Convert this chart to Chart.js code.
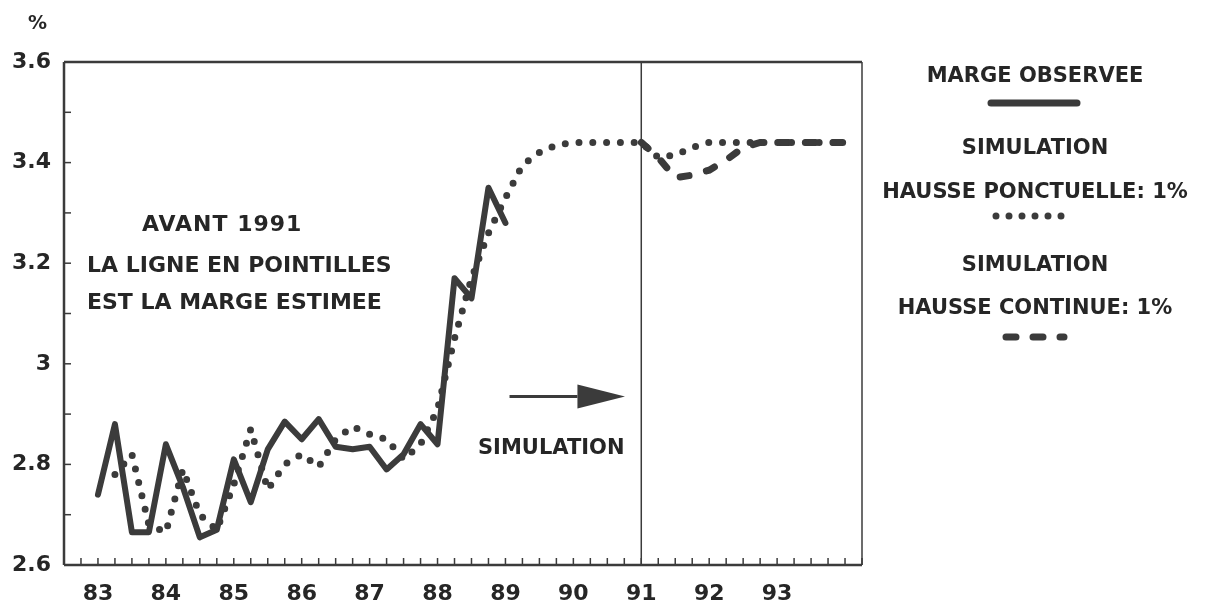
<!DOCTYPE html>
<html>
<head>
<meta charset="utf-8">
<script src="https://cdn.jsdelivr.net/npm/chart.js@4.4.1/dist/chart.umd.min.js"></script>
<style>
  body { margin: 0; background: #fff; }
  #wrap { position: relative; width: 1211px; height: 602px; font-family: 'DejaVu Sans', sans-serif; font-weight: bold; color: #262626; }
  #wrap canvas { position: absolute; left: 0; top: 0; }
  .txt { position: absolute; white-space: nowrap; font-size: 22px; line-height: 1; }
  .leg { position: absolute; left: 870px; width: 330px; text-align: center; font-size: 21px; line-height: 1; white-space: nowrap; }
  .leg svg { display: block; margin: 0 auto; }
</style>
</head>
<body>
<div id="wrap">
  <canvas id="c" width="1211" height="602"></canvas>
  <div class="txt" style="left:28px;top:13px;font-size:19px;">%</div>
  <div class="txt" style="left:142px;top:213px;letter-spacing:1px;">AVANT 1991</div>
  <div class="txt" style="left:87px;top:254px;">LA LIGNE EN POINTILLES</div>
  <div class="txt" style="left:87px;top:291px;">EST LA MARGE ESTIMEE</div>
  <div class="txt" style="left:478px;top:437px;font-size:21px;">SIMULATION</div>

  <div class="leg" style="top:65px;">MARGE OBSERVEE</div>
  <div class="leg" style="top:97px;"><svg width="100" height="12"><line x1="6" y1="6" x2="92" y2="6" stroke="#3b3b3b" stroke-width="7" stroke-linecap="round"/></svg></div>
  <div class="leg" style="top:137px;">SIMULATION</div>
  <div class="leg" style="top:181px;">HAUSSE PONCTUELLE: 1%</div>
  <div class="leg" style="top:210px;"><svg width="90" height="12"><line x1="6" y1="6" x2="84" y2="6" stroke="#3b3b3b" stroke-width="7" stroke-linecap="round" stroke-dasharray="0 13"/></svg></div>
  <div class="leg" style="top:254px;">SIMULATION</div>
  <div class="leg" style="top:297px;">HAUSSE CONTINUE: 1%</div>
  <div class="leg" style="top:331px;"><svg width="70" height="12"><line x1="6" y1="6" x2="64" y2="6" stroke="#3b3b3b" stroke-width="7" stroke-linecap="round" stroke-dasharray="10 17"/></svg></div>
</div>
<script>
// Marge observee, trimestrielle, a partir de 1983 T1
const observed = [2.74, 2.88, 2.665, 2.665, 2.84, 2.755, 2.655, 2.67, 2.81, 2.725,
  2.83, 2.885, 2.85, 2.89, 2.835, 2.83, 2.835, 2.79, 2.82, 2.88,
  2.84, 3.17, 3.13, 3.35, 3.28];
const observedStart = 83;

// Simulation hausse ponctuelle (pointilles), a partir de 1983 T2
const ponctuelle = [2.78, 2.82, 2.68, 2.665, 2.79, 2.70, 2.67, 2.76, 2.87, 2.75,
  2.80, 2.82, 2.795, 2.85, 2.875, 2.86, 2.85, 2.81, 2.84, 2.91,
  3.05, 3.17, 3.26, 3.33, 3.395, 3.42, 3.435, 3.44, 3.44, 3.44,
  3.44, 3.44, 3.41, 3.415, 3.43, 3.44, 3.44, 3.44, 3.44, 3.44,
  3.44, 3.44, 3.44, 3.44];
const ponctuelleStart = 83.25;

// Simulation hausse continue (tirets), a partir de 1991 T1
const continue1 = [3.44, 3.41, 3.37, 3.375, 3.385, 3.405, 3.43, 3.44, 3.44, 3.44,
  3.44, 3.44, 3.44];
const continueStart = 91;

const yearLabels = ['83', '84', '85', '86', '87', '88', '89', '90', '91', '92', '93'];
const simStart = 91;

const INK = '#3b3b3b';
const TXT = '#262626';

function toPoints(vals, start) {
  return vals.map((v, i) => ({ x: start + i / 4, y: v }));
}

const framePlugin = {
  id: 'frame',
  afterDatasetsDraw(chart) {
    const { ctx, chartArea: a, scales: { x, y } } = chart;
    ctx.save();
    ctx.strokeStyle = INK;
    ctx.lineCap = 'butt';
    // inward ticks
    ctx.lineWidth = 1.5;
    x.ticks.forEach(t => {
      const px = x.getPixelForValue(t.value);
      ctx.beginPath(); ctx.moveTo(px, a.bottom); ctx.lineTo(px, a.bottom - 7); ctx.stroke();
    });
    y.ticks.forEach(t => {
      const py = y.getPixelForValue(t.value);
      ctx.beginPath(); ctx.moveTo(a.left, py); ctx.lineTo(a.left + 7, py); ctx.stroke();
    });
    // vertical line: debut de la simulation
    const sx = x.getPixelForValue(simStart);
    ctx.lineWidth = 1.5;
    ctx.beginPath(); ctx.moveTo(sx, a.top); ctx.lineTo(sx, a.bottom); ctx.stroke();
    // frame
    ctx.lineWidth = 2.5;
    ctx.beginPath(); ctx.moveTo(a.left, a.top); ctx.lineTo(a.right, a.top); ctx.stroke();
    ctx.beginPath(); ctx.moveTo(a.left, a.bottom); ctx.lineTo(a.right, a.bottom); ctx.stroke();
    ctx.beginPath(); ctx.moveTo(a.left, a.top); ctx.lineTo(a.left, a.bottom); ctx.stroke();
    ctx.lineWidth = 1.5;
    ctx.beginPath(); ctx.moveTo(a.right, a.top); ctx.lineTo(a.right, a.bottom); ctx.stroke();
    // arrow
    const ay = y.getPixelForValue(2.935);
    const x0 = x.getPixelForValue(89.06), xb = x.getPixelForValue(90.06), xt = x.getPixelForValue(90.76);
    ctx.lineWidth = 3;
    ctx.beginPath(); ctx.moveTo(x0, ay); ctx.lineTo(xb, ay); ctx.stroke();
    ctx.fillStyle = INK;
    ctx.beginPath(); ctx.moveTo(xb, ay - 12); ctx.lineTo(xt, ay); ctx.lineTo(xb, ay + 12); ctx.closePath(); ctx.fill();
    ctx.restore();
  }
};

const tickFont = { family: 'DejaVu Sans', weight: 'bold', size: 22 };

new Chart(document.getElementById('c'), {
  type: 'line',
  data: {
    datasets: [
      { label: 'MARGE OBSERVEE', data: toPoints(observed, observedStart),
        borderColor: INK, borderWidth: 6, pointRadius: 0, borderJoinStyle: 'round', borderCapStyle: 'round', tension: 0 },
      { label: 'HAUSSE PONCTUELLE', data: toPoints(ponctuelle, ponctuelleStart),
        borderColor: INK, borderWidth: 7, pointRadius: 0, borderCapStyle: 'round', borderDash: [0, 13.8], tension: 0 },
      { label: 'HAUSSE CONTINUE', data: toPoints(continue1, continueStart),
        borderColor: INK, borderWidth: 7, pointRadius: 0, borderCapStyle: 'round', borderDash: [9, 18], tension: 0 }
    ]
  },
  options: {
    responsive: false, animation: false,
    layout: { padding: { top: 62, right: 349, left: 0, bottom: 0 } },
    plugins: { legend: { display: false }, tooltip: { enabled: false } },
    scales: {
      x: {
        type: 'linear', min: 82.5, max: 94.25,
        afterFit: s => { s.height = 37; },
        grid: { display: false }, border: { display: false },
        ticks: {
          stepSize: 0.25, autoSkip: false, maxRotation: 0, padding: 8,
          font: tickFont, color: TXT,
          callback: v => {
            const r = Math.round(v);
            return Math.abs(v - r) < 1e-6 ? (yearLabels[r - 83] || '') : '';
          }
        }
      },
      y: {
        min: 2.6, max: 3.6,
        afterFit: s => { s.width = 64; },
        grid: { display: false }, border: { display: false },
        ticks: {
          stepSize: 0.1, padding: 5, font: tickFont, color: TXT,
          callback: v => Math.round(v * 10) % 2 === 0 ? String(Number(v.toFixed(1))) : ''
        }
      }
    }
  },
  plugins: [framePlugin]
});
</script>
</body>
</html>
